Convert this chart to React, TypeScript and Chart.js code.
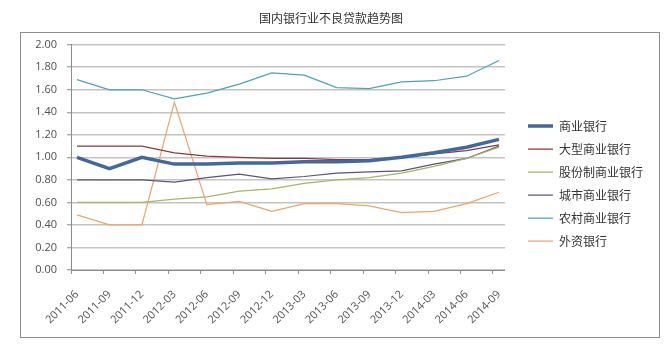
import React, { useEffect, useRef } from 'react';
import { Chart, registerables } from 'chart.js';

Chart.register(...registerables);

const chartTitle = '国内银行业不良贷款趋势图';

const quarters = [
  '2011-06', '2011-09', '2011-12', '2012-03', '2012-06', '2012-09', '2012-12',
  '2013-03', '2013-06', '2013-09', '2013-12', '2014-03', '2014-06', '2014-09',
];

const commercialBanks = [1.0, 0.9, 1.0, 0.94, 0.94, 0.95, 0.95, 0.96, 0.96, 0.97, 1.0, 1.04, 1.09, 1.16];
const largeBanks = [1.1, 1.1, 1.1, 1.04, 1.01, 1.0, 0.99, 0.99, 0.98, 0.98, 1.0, 1.03, 1.06, 1.11];
const jointStockBanks = [0.6, 0.6, 0.6, 0.63, 0.65, 0.7, 0.72, 0.77, 0.8, 0.82, 0.86, 0.92, 0.99, 1.09];
const cityBanks = [0.8, 0.8, 0.8, 0.78, 0.82, 0.85, 0.81, 0.83, 0.86, 0.87, 0.88, 0.94, 0.99, 1.1];
const ruralBanks = [1.69, 1.6, 1.6, 1.52, 1.57, 1.65, 1.75, 1.73, 1.62, 1.61, 1.67, 1.68, 1.72, 1.86];
const foreignBanks = [0.49, 0.4, 0.4, 1.49, 0.58, 0.61, 0.52, 0.59, 0.59, 0.57, 0.51, 0.52, 0.59, 0.69];

const seriesNames = ['商业银行', '大型商业银行', '股份制商业银行', '城市商业银行', '农村商业银行', '外资银行'];
const seriesValues = [commercialBanks, largeBanks, jointStockBanks, cityBanks, ruralBanks, foreignBanks];
const seriesColors = ['#41699f', '#8b3b3b', '#a3b766', '#5b5479', '#4ba3bd', '#eea46a'];
const seriesWidths = [3.5, 1.25, 1.25, 1.25, 1.25, 1.25];

const yMin = 0;
const yMax = 2;
const yStep = 0.2;

const CJK = "'Noto Sans CJK SC', 'Noto Sans', sans-serif";
const NUM = "'Open Sans', 'Liberation Sans', sans-serif";

export default function App() {
  const ref = useRef<HTMLCanvasElement>(null);

  useEffect(() => {
    const frame = {
      id: 'frame',
      beforeDraw(chart: any) {
        const c = chart.ctx;
        c.save();
        c.fillStyle = '#ffffff';
        c.fillRect(0, 0, chart.width, chart.height);
        c.strokeStyle = '#8c8c8c';
        c.lineWidth = 1;
        c.strokeRect(20.5, 32.5, 639, 305);
        c.restore();
      },
    };

    // leave a small gap between the plot area and the legend
    const legendGap = {
      id: 'legendGap',
      afterLayout(chart: any) {
        const lg = chart.legend;
        if (lg) {
          lg.left += 12;
          lg.right += 12;
        }
      },
    };

    const datasets = seriesNames.map((name, k) => ({
      label: name,
      data: seriesValues[k].map((v, i) => ({ x: i, y: v })),
      borderColor: seriesColors[k],
      backgroundColor: seriesColors[k],
      borderWidth: seriesWidths[k],
      pointRadius: 0,
      pointHoverRadius: 0,
      tension: 0,
      fill: false,
    }));

    const chart = new Chart(ref.current as HTMLCanvasElement, {
      type: 'line',
      data: { datasets },
      plugins: [frame, legendGap],
      options: {
        responsive: false,
        animation: false,
        events: [],
        layout: { padding: { left: 21, right: 31, top: 0, bottom: 5 } },
        plugins: {
          tooltip: { enabled: false },
          title: {
            display: true,
            text: chartTitle,
            color: '#333333',
            font: { family: CJK, size: 12, weight: 'normal' },
            padding: { top: 11, bottom: 19.3 },
          },
          legend: {
            display: true,
            position: 'right',
            align: 'start',
            title: {
              display: true,
              text: '',
              font: { size: 12 },
              padding: { top: 94.6, bottom: 0 },
            },
            labels: {
              boxWidth: 25,
              boxHeight: 0,
              padding: 11,
              color: '#333333',
              font: { family: CJK, size: 12 },
            },
          },
        },
        scales: {
          x: {
            type: 'linear',
            min: -0.185,
            max: quarters.length - 1 + 0.185,
            afterBuildTicks: (s: any) => {
              s.ticks = quarters.map((_, i) => ({ value: i - 0.185 }));
            },
            afterFit: (s: any) => {
              s.height = 77;
            },
            grid: {
              display: true,
              drawOnChartArea: false,
              drawTicks: true,
              tickLength: 4,
              color: '#8c8c8c',
            },
            border: { display: true, color: '#8c8c8c', width: 1 },
            ticks: {
              autoSkip: false,
              minRotation: 45,
              maxRotation: 45,
              padding: 14,
              labelOffset: 6,
              color: '#505050',
              font: { family: NUM, size: 11 },
              callback: (_v: any, i: number) => quarters[i],
            },
          },
          y: {
            type: 'linear',
            min: yMin,
            max: yMax,
            afterFit: (s: any) => {
              s.width = 50;
            },
            grid: {
              color: '#c4c4c4',
              lineWidth: 1.5,
              tickLength: 4,
              tickColor: '#8c8c8c',
              tickWidth: 1,
            },
            border: { display: true, color: '#8c8c8c', width: 1 },
            ticks: {
              stepSize: yStep,
              padding: 10,
              color: '#505050',
              font: { family: NUM, size: 11 },
              callback: (v: any) => Number(v).toFixed(2),
            },
          },
        },
      } as any,
    });

    return () => chart.destroy();
  }, []);

  return (
    <div style={{ position: 'fixed', left: 0, top: 0, width: 672, height: 352, background: '#fff' }}>
      <canvas ref={ref} width={672} height={352} style={{ display: 'block' }} />
    </div>
  );
}
